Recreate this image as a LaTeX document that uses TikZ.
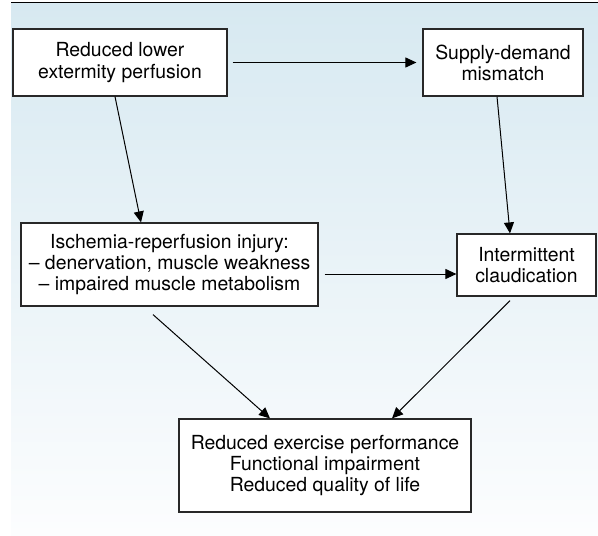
\documentclass[tikz,border=0pt]{standalone}
\usepackage{fontspec}
\setmainfont{TeX Gyre Heros}
\usepackage{tikz}
\usetikzlibrary{arrows.meta}
\definecolor{bgtop}{RGB}{215,233,241}
\definecolor{bgbot}{RGB}{252,253,254}
\definecolor{boxline}{RGB}{40,40,40}
\tikzstyle{box} = [rectangle, draw=boxline, fill=white, line width=0.6pt, align=center, inner sep=0pt, font=\fontsize{9.7}{10.6}\selectfont]
\tikzstyle{arrow} = [line width=0.5pt, -{Triangle[length=5.5pt,width=5pt]}]

\begin{document}
\begin{tikzpicture}[x=0.5pt,y=-0.5pt]

\useasboundingbox (0,0) rectangle (598,535);
\shade [top color=bgtop, bottom color=bgbot] (11,3) rectangle (598,535);
\draw [line width=0.6pt] (11,2.5) -- (598,2.5);

\node (perf) [box, minimum width=107pt, minimum height=33.5pt] at (120,62.5) {Reduced lower\\extermity perfusion};
\node (mismatch) [box, minimum width=80pt, minimum height=33.5pt] at (503,62.5) {Supply-demand\\mismatch};
\node (injury) [box, minimum width=148.5pt, minimum height=41.5pt] at (169.5,264.5) {Ischemia-reperfusion injury:\\-- denervation, muscle weakness\\-- impaired muscle metabolism};
\node (claud) [box, minimum width=69.5pt, minimum height=31pt] at (526.5,265) {Intermittent\\claudication};
\node (outcome) [box, minimum width=146pt, minimum height=46.5pt] at (325,465.5) {Reduced exercise performance\\Functional impairment\\Reduced quality of life};

\draw [arrow] ([xshift=2.5pt]perf.east) -- ([xshift=-3pt]mismatch.west);
\draw [arrow] ([xshift=-2.5pt]perf.south) -- ([xshift=-14.25pt]injury.north);
\draw [arrow] ([xshift=-3pt]mismatch.south) -- ([xshift=-8.25pt]claud.north);
\draw [arrow] ([xshift=3pt,yshift=-4.75pt]injury.east) -- ([yshift=-4.5pt]claud.west);
\draw [arrow] ([xshift=-8.25pt,yshift=-4pt]injury.south) -- ([xshift=-27.5pt]outcome.north);
\draw [arrow] ([xshift=-8.25pt,yshift=-2pt]claud.south) -- ([xshift=33.5pt]outcome.north);

\end{tikzpicture}
\end{document}
